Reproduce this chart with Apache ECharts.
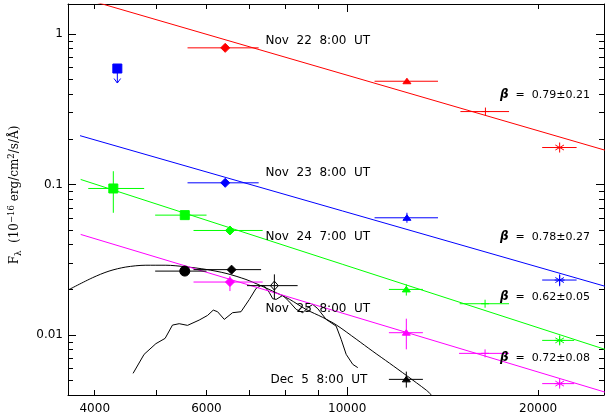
<!DOCTYPE html>
<html><head><meta charset="utf-8">
<script src="https://cdn.jsdelivr.net/npm/echarts@6/dist/echarts.min.js"></script>
<style>html,body{margin:0;padding:0;background:#fff}#c{width:605px;height:418px}</style>
</head><body><div id="c"></div>
<script>
// ---- axis ranges and ticks ----
const xRange = [3630, 25400];
const yRange = [0.004, 1.58];
const xLabelTicks = [4000, 6000, 10000, 20000];
const xMinorTicks = [4000, 5000, 6000, 7000, 8000, 9000, 20000];
const xMajorTicks = [10000];
const yLabelTicks = [0.01, 0.1, 1];
const yMinorTicks = [0.005, 0.006, 0.007, 0.008, 0.009,
  0.02, 0.03, 0.04, 0.05, 0.06, 0.07, 0.08, 0.09,
  0.2, 0.3, 0.4, 0.5, 0.6, 0.7, 0.8, 0.9];

// ---- photometry: [lambda(A), F, lambdaLo, lambdaHi, FLo, FHi] ----
const nov22Points = [
  [6423, 0.808, 5602, 7252, null, null],
  [12422, 0.485, 11045, 13904, null, null],
  [16517, 0.305, 15083, 17995, null, null],
  [21623, 0.176, 20295, 22997, null, null]
];
const nov22Markers = ['diamond', 'triangle', 'plus', 'asterisk'];

const nov23Points = [
  [4342, 0.589, null, null, null, null],
  [6423, 0.1026, 5602, 7252, null, null],
  [12422, 0.0601, 11045, 13904, 0.0557, 0.0649],
  [21623, 0.0232, 20295, 22997, 0.0211, 0.0253]
];
const nov23Markers = ['limit', 'diamond', 'triangle', 'asterisk'];

const nov24Points = [
  [4279, 0.0941, 3907, 4786, 0.0649, 0.1225],
  [5546, 0.0626, 4981, 6002, null, null],
  [6534, 0.0495, 5725, 7358, null, null],
  [12394, 0.0201, 11635, 13163, 0.0183, 0.0217],
  [16495, 0.01615, 15045, 17995, null, null],
  [21623, 0.00922, 20295, 22795, 0.00868, 0.00985]
];
const nov24Markers = ['square', 'square', 'diamond', 'triangle', 'plus', 'asterisk'];

const nov25Points = [
  [6534, 0.0225, 5725, 7358, 0.0196, 0.0246],
  [12394, 0.01037, 11635, 13163, 0.00804, 0.01285],
  [16495, 0.00756, 15007, 17995, null, null],
  [21623, 0.00476, 20295, 22795, 0.00455, 0.00498]
];
const nov25Markers = ['diamond', 'triangle', 'plus', 'asterisk'];

const dec5Points = [
  [5546, 0.0266, 4981, 6002, null, null],
  [6573, 0.0272, 5725, 7316, null, null],
  [7678, 0.0213, 6951, 8354, 0.0173, 0.0253],
  [12394, 0.00508, 11635, 13163, 0.00448, 0.00572]
];
const dec5Markers = ['circle', 'diamond', 'openDiamond', 'triangle'];

// ---- power-law fits (end points) ----
const fitNov22 = [[3801, 1.74], [25487, 0.169]];
const fitNov23 = [[3792, 0.211], [25487, 0.0211]];
const fitNov24 = [[3801, 0.108], [25487, 0.00804]];
const fitNov25 = [[3801, 0.0466], [25487, 0.00418]];

// ---- model curve and template spectrum ----
const modelCurve = [[3630,0.0199],[3965,0.0240],[4213,0.0266],[4477,0.0283],[4815,0.0291],[5178,0.0291],
  [5569,0.0284],[5989,0.0273],[6441,0.0257],[6926,0.0234],[7270,0.0215],[7630,0.0196],[8108,0.0173],
  [8614,0.0148],[9153,0.0131],[9607,0.0117],[10332,0.0094],[10975,0.0078],[11664,0.0065],[12394,0.0054],
  [13332,0.0043],[13577,0.0040]];
const templateSpectrum = [[4597,0.00557],[4785,0.00745],[4994,0.00877],[5164,0.00951],[5304,0.01165],
  [5435,0.0119],[5602,0.0116],[5844,0.01258],[6025,0.01351],[6150,0.01465],[6247,0.01429],[6401,0.01271],
  [6597,0.01408],[6802,0.01429],[7011,0.01725],[7184,0.02041],[7316,0.02137],[7405,0.02114],[7541,0.01911],
  [7632,0.01744],[7727,0.01725],[7914,0.01834],[8089,0.01681],[8310,0.01481],[8511,0.01408],[8667,0.0152],
  [8826,0.01598],[8988,0.01497],[9265,0.01271],[9607,0.01147],[9784,0.00937],[9963,0.00745],[10205,0.00639],
  [10392,0.00608]];

// ---- text ----
const epochLabels = ['Nov  22  8:00  UT', 'Nov  23  8:00  UT', 'Nov  24  7:00  UT', 'Nov  25  8:00  UT', 'Dec  5  8:00  UT'];
const betaLabels = ['0.79±0.21', '0.78±0.27', '0.62±0.05', '0.72±0.08'];

const RED = '#ff0000', BLUE = '#0000ff', GREEN = '#00ff00', MAG = '#ff00ff', BLK = '#000000';
const FONT = 'DejaVu Sans';

function renderPoints(color, markers) {
  return function (params, api) {
    const i = params.dataIndex;
    const lam = api.value(0), f = api.value(1);
    const c = api.coord([lam, f]);
    const cx = c[0], cy = c[1];
    const st = {stroke: color, lineWidth: 1, fill: null};
    const fs = {fill: color, stroke: color, lineWidth: 1};
    const kids = [];
    const line = (x1, y1, x2, y2) => kids.push({type: 'line', shape: {x1, y1, x2, y2}, style: st});
    const xlo = api.value(2), xhi = api.value(3), ylo = api.value(4), yhi = api.value(5);
    if (isFinite(xlo) && isFinite(xhi)) {
      const a = api.coord([xlo, f]), b = api.coord([xhi, f]);
      line(a[0], cy, b[0], cy);
    }
    if (isFinite(ylo) && isFinite(yhi)) {
      const a = api.coord([lam, ylo]), b = api.coord([lam, yhi]);
      line(cx, a[1], cx, b[1]);
    }
    const m = markers[i];
    if (m === 'diamond') {
      kids.push({type: 'polygon', shape: {points: [[cx, cy - 4.5], [cx + 4.5, cy], [cx, cy + 4.5], [cx - 4.5, cy]]}, style: fs});
    } else if (m === 'openDiamond') {
      kids.push({type: 'polygon', shape: {points: [[cx, cy - 4.5], [cx + 4, cy], [cx, cy + 4.5], [cx - 4, cy]]}, style: {fill: '#fff', stroke: color, lineWidth: 1}});
      line(cx - 4, cy, cx + 4, cy); line(cx, cy - 4.5, cx, cy + 4.5);
    } else if (m === 'triangle') {
      kids.push({type: 'polygon', shape: {points: [[cx - 4, cy + 2.5], [cx + 4, cy + 2.5], [cx, cy - 3]]}, style: fs});
    } else if (m === 'square') {
      kids.push({type: 'rect', shape: {x: cx - 4.5, y: cy - 4.5, width: 9, height: 9}, style: fs});
    } else if (m === 'limit') {
      kids.push({type: 'rect', shape: {x: cx - 4.5, y: cy - 4.5, width: 9, height: 9}, style: fs});
      line(cx, cy + 4.5, cx, cy + 14.5);
      line(cx - 3.3, cy + 10, cx, cy + 14.5); line(cx + 3.3, cy + 10, cx, cy + 14.5);
    } else if (m === 'circle') {
      kids.push({type: 'circle', shape: {cx, cy, r: 5}, style: fs});
    } else if (m === 'plus') {
      line(cx, cy - 4, cx, cy + 4); line(cx - 4, cy, cx + 4, cy);
    } else if (m === 'asterisk') {
      line(cx, cy - 5, cx, cy + 5);
      line(cx - 4.3, cy - 2.5, cx + 4.3, cy + 2.5);
      line(cx - 4.3, cy + 2.5, cx + 4.3, cy - 2.5);
      line(cx - 5, cy, cx + 5, cy);
    }
    return {type: 'group', children: kids};
  };
}

function pointSeries(data, color, markers) {
  return {type: 'custom', xAxisIndex: 0, yAxisIndex: 0, data: data, encode: {x: 0, y: 1},
    renderItem: renderPoints(color, markers), clip: true, z: 4, silent: true};
}
function lineSeries(data, color, z, smooth) {
  return {type: 'line', xAxisIndex: 0, yAxisIndex: 0, data: data, symbol: 'none', showSymbol: false,
    smooth: smooth || false, clip: true, silent: true, z: z,
    lineStyle: {color: color, width: 1}};
}

function xAxisDef(position, ticks, len, withLine, labels) {
  return {type: 'log', logBase: 10, min: xRange[0], max: xRange[1], position: position,
    axisLine: {show: withLine, onZero: false, lineStyle: {color: '#000', width: 1}},
    axisTick: {show: true, inside: true, length: len, customValues: ticks, lineStyle: {color: '#000', width: 1}},
    axisLabel: labels ? {show: true, customValues: labels, color: '#000', fontSize: 12, fontFamily: FONT, margin: 8,
      formatter: v => String(v)} : {show: false},
    splitLine: {show: false}, minorTick: {show: false}, minorSplitLine: {show: false}};
}
function yAxisDef(position, ticks, len, withLine, labels) {
  return {type: 'log', logBase: 10, min: yRange[0], max: yRange[1], position: position,
    axisLine: {show: withLine, onZero: false, lineStyle: {color: '#000', width: 1}},
    axisTick: {show: true, inside: true, length: len, customValues: ticks, lineStyle: {color: '#000', width: 1}},
    axisLabel: labels ? {show: true, customValues: labels, color: '#000', fontSize: 12, fontFamily: FONT, margin: 5,
      formatter: v => String(v)} : {show: false},
    splitLine: {show: false}, minorTick: {show: false}, minorSplitLine: {show: false}};
}

const epochY = [41, 172.5, 236.7, 309.3, 380];
const epochX = [265.5, 265.5, 265.5, 265.5, 270.5];
const betaY = [95, 236.7, 297.3, 358.3];

const graphics = [];
epochLabels.forEach((t, i) => graphics.push({type: 'text', x: epochX[i], y: epochY[i], z: 10,
  style: {text: t, fill: '#000', font: '12px "DejaVu Sans"', align: 'left', verticalAlign: 'middle'}}));
betaLabels.forEach((t, i) => graphics.push({type: 'text', x: 500, y: betaY[i], z: 10,
  style: {text: '{b|β}  =  ' + t, fill: '#000', fontSize: 11, fontFamily: FONT, align: 'left', verticalAlign: 'middle',
    rich: {b: {fontSize: 12, fontWeight: 'bold', fontStyle: 'italic', fontFamily: FONT, fill: '#000'}}}}));
graphics.push({type: 'text', x: 15, y: 195, rotation: Math.PI / 2, z: 10,
  style: {text: 'F{sub|λ}  (10{sup|−16} erg/cm{sup|2}/s/Å)', fill: '#000', fontSize: 12, fontFamily: 'DejaVu Serif',
    align: 'center', verticalAlign: 'middle', lineHeight: 16,
    rich: {sub: {fontSize: 8.5, fontFamily: 'DejaVu Serif', verticalAlign: 'bottom', fill: '#000'},
           sup: {fontSize: 8.5, fontFamily: 'DejaVu Serif', verticalAlign: 'top', fill: '#000'}}}});

const chart = echarts.init(document.getElementById('c'), null, {renderer: 'canvas'});
chart.setOption({
  animation: false,
  backgroundColor: '#fff',
  grid: {left: 68, right: 1, top: 4, bottom: 23},
  xAxis: [
    xAxisDef('bottom', xMinorTicks, 5, true, xLabelTicks),
    xAxisDef('bottom', xMajorTicks, 8, false, null),
    xAxisDef('top', xMinorTicks, 5, true, null),
    xAxisDef('top', xMajorTicks, 8, false, null)
  ],
  yAxis: [
    yAxisDef('left', yMinorTicks, 5, true, yLabelTicks),
    yAxisDef('left', yLabelTicks, 8, false, null),
    yAxisDef('right', yMinorTicks, 5, true, null),
    yAxisDef('right', yLabelTicks, 8, false, null)
  ],
  series: [
    lineSeries(modelCurve, BLK, 2, 0.3),
    lineSeries(templateSpectrum, BLK, 2, false),
    lineSeries(fitNov22, RED, 3),
    lineSeries(fitNov23, BLUE, 3),
    lineSeries(fitNov24, GREEN, 3),
    lineSeries(fitNov25, MAG, 3),
    pointSeries(nov22Points, RED, nov22Markers),
    pointSeries(nov23Points, BLUE, nov23Markers),
    pointSeries(nov24Points, GREEN, nov24Markers),
    pointSeries(nov25Points, MAG, nov25Markers),
    pointSeries(dec5Points, BLK, dec5Markers)
  ],
  graphic: graphics
});
</script>
</body></html>
